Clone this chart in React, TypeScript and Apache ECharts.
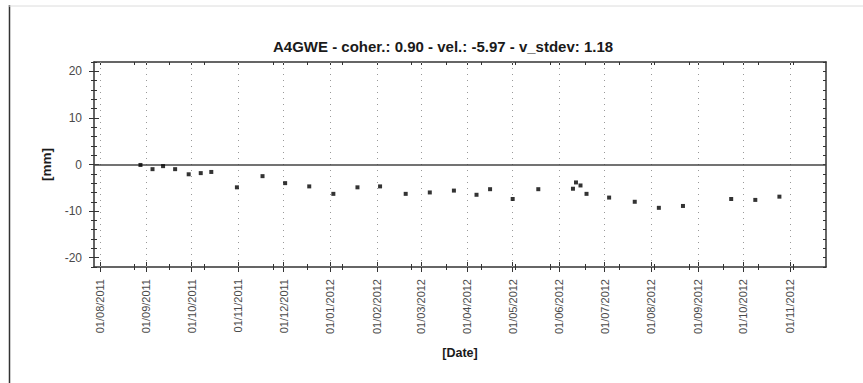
import React, { useEffect, useRef } from "react";
import * as echarts from "echarts";

const TITLE = "A4GWE - coher.: 0.90 - vel.: -5.97 - v_stdev: 1.18";
const Y_NAME = "[mm]";
const X_NAME = "[Date]";

const dates = [
  "2011-08-28", "2011-09-05", "2011-09-12", "2011-09-20", "2011-09-29",
  "2011-10-07", "2011-10-14", "2011-10-31", "2011-11-17", "2011-12-02",
  "2011-12-18", "2012-01-03", "2012-01-19", "2012-02-03", "2012-02-20",
  "2012-03-07", "2012-03-23", "2012-04-07", "2012-04-16", "2012-05-01",
  "2012-05-18", "2012-06-10", "2012-06-12", "2012-06-15", "2012-06-19",
  "2012-07-04", "2012-07-21", "2012-08-06", "2012-08-22", "2012-09-23",
  "2012-10-09", "2012-10-25",
];
const values = [
  -0.1, -1.0, -0.35, -1.0, -2.1,
  -1.85, -1.6, -4.9, -2.5, -4.0,
  -4.7, -6.3, -4.9, -4.7, -6.3,
  -6.0, -5.6, -6.5, -5.3, -7.4,
  -5.3, -5.2, -3.85, -4.5, -6.3,
  -7.1, -8.0, -9.3, -8.9, -7.4,
  -7.6, -6.9,
];
const monthTicks = [
  "2011-08-01", "2011-09-01", "2011-10-01", "2011-11-01", "2011-12-01",
  "2012-01-01", "2012-02-01", "2012-03-01", "2012-04-01", "2012-05-01",
  "2012-06-01", "2012-07-01", "2012-08-01", "2012-09-01", "2012-10-01",
  "2012-11-01",
];
const yMajor = [-20, -10, 0, 10, 20];
const yMinor = [-22, -18, -16, -14, -12, -8, -6, -4, -2, 2, 4, 6, 8, 12, 14, 16, 18, 22];
const X_MIN = "2011-07-28T04:00:00Z";
const X_MAX = "2012-11-24T22:00:00Z";
const Y_MIN = -22;
const Y_MAX = 22;
const MINOR_STEP_DAYS = 23;

const FONT = "'Liberation Sans', Arial, sans-serif";
const AXIS_COLOR = "#333";

function ts(s: string) {
  return new Date(s.length === 10 ? s + "T00:00:00Z" : s).getTime();
}
function pad(n: number) {
  return n < 10 ? "0" + n : "" + n;
}
function fmtDate(v: number) {
  const d = new Date(v);
  return pad(d.getUTCDate()) + "/" + pad(d.getUTCMonth() + 1) + "/" + d.getUTCFullYear();
}

export default function App() {
  const ref = useRef<HTMLDivElement>(null);

  useEffect(() => {
    if (!ref.current) return;
    const chart = echarts.init(ref.current, undefined, { renderer: "svg" });

    const xMin = ts(X_MIN);
    const xMax = ts(X_MAX);
    const monthTs = monthTicks.map(ts);
    const minorTs: number[] = [];
    const start = monthTs[0];
    const step = MINOR_STEP_DAYS * 86400000;
    for (let t = start; t <= xMax; t += step) minorTs.push(t);
    const allY = yMajor.concat(yMinor);

    const baseX = (extra: any) => ({
      type: "value",
      min: xMin,
      max: xMax,
      position: "bottom",
      splitLine: { show: false },
      axisLine: { show: false, onZero: false },
      axisLabel: { show: false },
      ...extra,
    });
    const baseY = (extra: any) => ({
      type: "value",
      min: Y_MIN,
      max: Y_MAX,
      position: "left",
      splitLine: { show: false },
      axisLine: { show: false, onZero: false },
      axisLabel: { show: false },
      ...extra,
    });
    const tick = (vals: number[], len: number, inside: boolean) => ({
      show: true,
      customValues: vals,
      length: len,
      inside,
      lineStyle: { color: AXIS_COLOR, width: 1 },
    });

    const data = dates.map((d, i) => [ts(d), values[i]]);

    chart.setOption({
      animation: false,
      backgroundColor: "#ffffff",
      title: {
        text: TITLE,
        left: 268,
        top: 34,
        textStyle: { fontFamily: FONT, fontSize: 15, fontWeight: "bold", color: "#1a1a1a" },
      },
      grid: { left: 94, right: 37, top: 62, bottom: 116, containLabel: false, outerBoundsMode: "none" },
      xAxis: [
        baseX({
          axisLine: { show: true, onZero: false, lineStyle: { color: AXIS_COLOR, width: 1.5 } },
          axisTick: tick(monthTs, 5, false),
          axisLabel: {
            show: true,
            customValues: monthTs,
            formatter: (v: number) => fmtDate(v),
            rotate: 90,
            margin: 12,
            fontSize: 11,
            color: "#4a4a4a",
            fontFamily: FONT,
          },
          name: X_NAME,
          nameLocation: "middle",
          nameGap: 79,
          nameTextStyle: { fontFamily: FONT, fontSize: 12.5, fontWeight: "bold", color: "#1a1a1a", verticalAlign: "top" },
        }),
        baseX({ axisTick: tick(monthTs, 5, true) }),
        baseX({ axisTick: tick(minorTs, 3, false) }),
        baseX({ axisTick: tick(minorTs, 3, true) }),
        baseX({
          position: "top",
          axisLine: { show: true, onZero: false, lineStyle: { color: AXIS_COLOR, width: 1.5 } },
          axisTick: tick(minorTs.concat(monthTs), 3, true),
        }),
      ],
      yAxis: [
        baseY({
          axisLine: { show: true, onZero: false, lineStyle: { color: AXIS_COLOR, width: 1.5 } },
          axisTick: tick(yMajor, 5, false),
          axisLabel: {
            show: true,
            customValues: yMajor,
            margin: 12,
            fontSize: 12,
            color: "#4a4a4a",
            fontFamily: FONT,
          },
          name: Y_NAME,
          nameLocation: "middle",
          nameGap: 34,
          nameRotate: 90,
          nameTextStyle: { fontFamily: FONT, fontSize: 13.5, fontWeight: "bold", color: "#1a1a1a" },
        }),
        baseY({ axisTick: tick(yMajor, 5, true) }),
        baseY({ axisTick: tick(yMinor, 3, false) }),
        baseY({ axisTick: tick(yMinor, 3, true) }),
        baseY({
          position: "right",
          axisLine: { show: true, onZero: false, lineStyle: { color: AXIS_COLOR, width: 1.5 } },
          axisTick: tick(allY, 3, true),
        }),
      ],
      graphic: [
        { type: "line", shape: { x1: 9.5, y1: 5, x2: 9.5, y2: 383 }, style: { stroke: "#333", lineWidth: 1.5 } },
        { type: "line", shape: { x1: 9, y1: 6, x2: 863, y2: 6 }, style: { stroke: "#dcdcdc", lineWidth: 1 } },
      ],
      series: [
        {
          type: "scatter",
          xAxisIndex: 0,
          yAxisIndex: 0,
          symbol: "rect",
          symbolSize: 4,
          itemStyle: { color: "#000" },
          data,
          z: 5,
          markLine: {
            silent: true,
            symbol: "none",
            label: { show: false },
            data: monthTs
              .map((t) => ({ xAxis: t, lineStyle: { color: "#999", width: 1, type: [1, 5] } }))
              .concat([{ yAxis: 0, lineStyle: { color: "#444", width: 1.5, type: "solid" } } as any]),
          },
        },
      ],
    });

    return () => chart.dispose();
  }, []);

  return (
    <div
      ref={ref}
      style={{ position: "absolute", left: 0, top: 0, width: 863, height: 383, background: "#fff" }}
    />
  );
}
